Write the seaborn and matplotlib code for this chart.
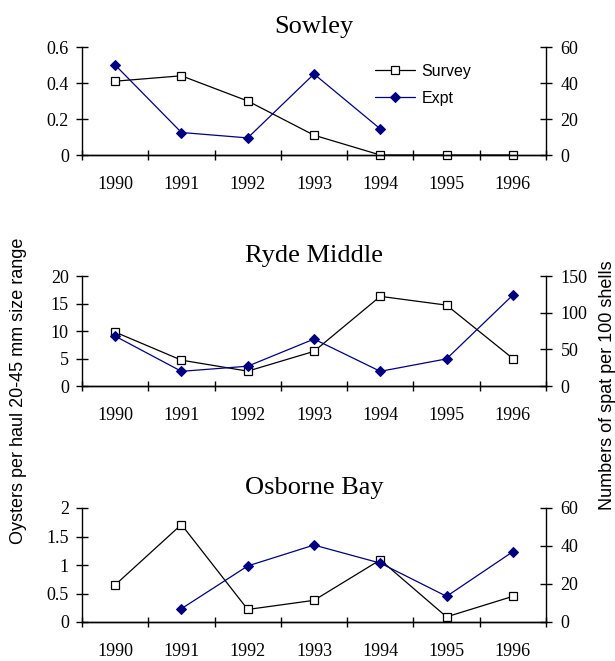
import numpy as np
import pandas as pd
import matplotlib
matplotlib.use("Agg")
import matplotlib.pyplot as plt
import seaborn as sns
from matplotlib.ticker import FuncFormatter

# data
years = ["1990", "1991", "1992", "1993", "1994", "1995", "1996"]
sites = ["Sowley", "Ryde Middle", "Osborne Bay"]

sowley_survey = [0.41, 0.44, 0.30, 0.11, 0.0, 0.0, 0.0]
sowley_expt = [50, 12.5, 9.5, 45, 14.5, np.nan, np.nan]

ryde_survey = [9.8, 4.7, 2.7, 6.3, 16.3, 14.7, 5.0]
ryde_expt = [68, 20, 27, 64, 20, 37, 124]

osborne_survey = [0.65, 1.71, 0.22, 0.38, 1.09, 0.09, 0.45]
osborne_expt = [np.nan, 7, 29.5, 40.5, 31, 13.5, 37]

left_ticks = [[0, 0.2, 0.4, 0.6], [0, 5, 10, 15, 20], [0, 0.5, 1, 1.5, 2]]
right_ticks = [[0, 20, 40, 60], [0, 50, 100, 150], [0, 20, 40, 60]]

survey_data = [sowley_survey, ryde_survey, osborne_survey]
expt_data = [sowley_expt, ryde_expt, osborne_expt]

sns.set_theme(style="white")
plt.rcParams["font.family"] = ["Liberation Serif", "DejaVu Serif"]
plt.rcParams["text.color"] = "black"
plt.rcParams["xtick.color"] = "black"
plt.rcParams["ytick.color"] = "black"
plt.rcParams["axes.labelcolor"] = "black"

W, H = 615, 661
fig = plt.figure(figsize=(W / 100, H / 100), dpi=100)

# axes boxes in pixels: (top, bottom)
boxes = [(47, 155), (276, 386), (508, 622)]
left_px, right_px = 82, 546

navy = "#000080"
fmt = FuncFormatter(lambda v, p: f"{v:g}")
x = np.arange(len(years))

for i, site in enumerate(sites):
    top, bot = boxes[i]
    ax = fig.add_axes([left_px / W, 1 - bot / H, (right_px - left_px) / W, (bot - top) / H])
    ax2 = ax.twinx()

    df = pd.DataFrame({"x": x, "survey": survey_data[i], "expt": expt_data[i]})

    sns.lineplot(data=df, x="x", y="survey", ax=ax, color="black", lw=0.9,
                 marker="s", markersize=6, markerfacecolor="white",
                 markeredgecolor="black", markeredgewidth=0.9,
                 label="Survey", legend=False, clip_on=False)
    sns.lineplot(data=df.dropna(), x="x", y="expt", ax=ax2, color=navy, lw=0.9,
                 marker="D", markersize=5.5, markerfacecolor=navy,
                 markeredgecolor=navy, label="Expt", legend=False, clip_on=False)

    lt, rt = left_ticks[i], right_ticks[i]
    ax.set_ylim(lt[0], lt[-1])
    ax2.set_ylim(rt[0], rt[-1])
    ax.set_yticks(lt)
    ax2.set_yticks(rt)
    ax.yaxis.set_major_formatter(fmt)
    ax2.yaxis.set_major_formatter(fmt)

    ax.set_xlim(-0.5, len(years) - 0.5)
    ax.set_xticks(x)
    ax.set_xticklabels(years)
    ax.set_xticks(np.arange(-0.5, len(years)), minor=True)
    ax.tick_params(axis="x", which="major", length=0, pad=15, labelsize=13)
    ax.tick_params(axis="x", which="minor", direction="inout", length=7,
                   width=1, color="black", bottom=True)
    ax.tick_params(axis="y", direction="inout", length=9, width=1, color="black",
                   left=True, pad=5, labelsize=13)
    ax2.tick_params(axis="y", direction="inout", length=9, width=1, color="black",
                    right=True, pad=6, labelsize=13)

    for a in (ax, ax2):
        a.set_xlabel("")
        a.set_ylabel("")
        a.grid(False)
        a.spines["top"].set_visible(False)
        for s in a.spines.values():
            s.set_color("black")
            s.set_linewidth(1)
    ax.spines["right"].set_visible(False)
    ax2.spines["left"].set_visible(False)

    ax.set_title(site, fontsize=19, pad=10, color="black")

    if i == 0:
        h1, l1 = ax.get_legend_handles_labels()
        h2, l2 = ax2.get_legend_handles_labels()
        ax2.legend(h1 + h2, l1 + l2, loc="upper left", bbox_to_anchor=(0.615, 0.92),
                   frameon=False, handlelength=2.5, handletextpad=0.4,
                   labelspacing=0.75, borderpad=0,
                   prop={"family": "Liberation Sans", "size": 11.5})

fig.text(19 / W, 1 - 391 / H, "Oysters per haul 20-45 mm size range", rotation=90,
         ha="center", va="center", fontsize=13, family="Liberation Sans")
fig.text(607 / W, 1 - 385 / H, "Numbers of spat per 100 shells", rotation=90,
         ha="center", va="center", fontsize=13, family="Liberation Sans")

fig.savefig("out.png", dpi=100, facecolor="white")
